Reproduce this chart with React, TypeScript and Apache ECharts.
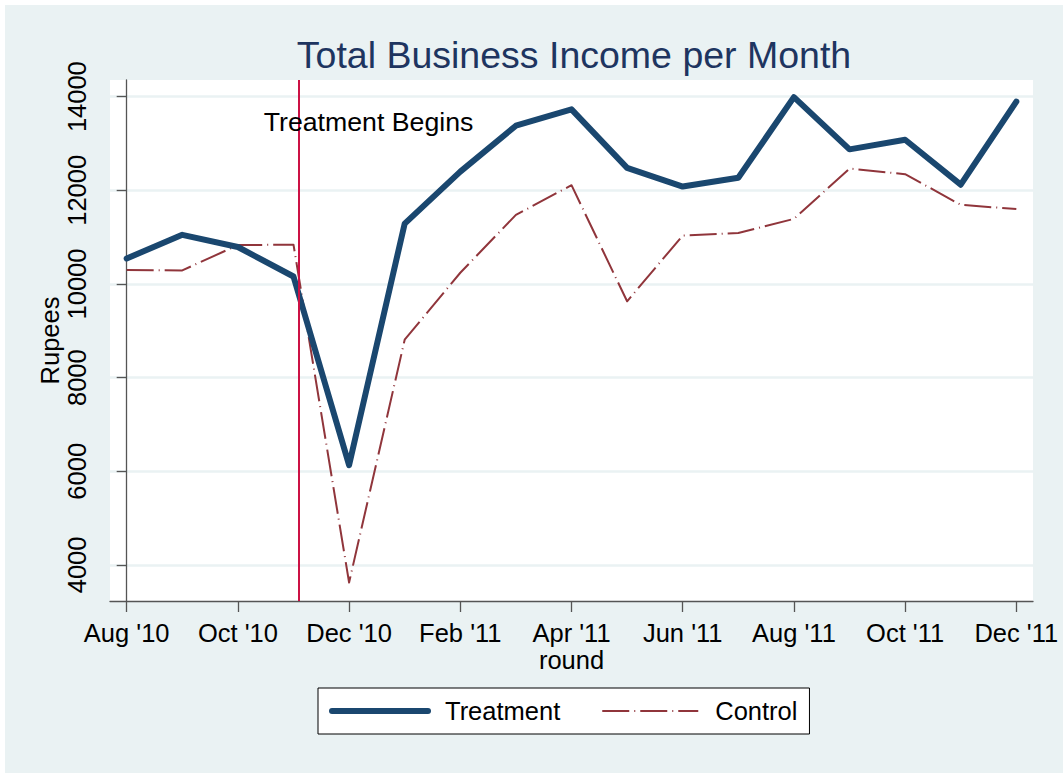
import React, { useEffect, useRef } from "react";
import * as echarts from "echarts";

const months = [
  "Aug '10", "Sep '10", "Oct '10", "Nov '10", "Dec '10", "Jan '11", "Feb '11", "Mar '11",
  "Apr '11", "May '11", "Jun '11", "Jul '11", "Aug '11", "Sep '11", "Oct '11", "Nov '11", "Dec '11",
];
const treatment = [10545, 11050, 10790, 10160, 6130, 11290, 12400, 13380, 13730, 12480, 12080, 12270, 13990, 12875, 13080, 12120, 13895];
const control = [10300, 10290, 10830, 10840, 3625, 8810, 10240, 11475, 12110, 9630, 11035, 11090, 11390, 12465, 12345, 11690, 11600];
const xTickIdx = [0, 2, 4, 6, 8, 10, 12, 14, 16];
const yTicks = [4000, 6000, 8000, 10000, 12000, 14000];
const treatmentStart = 3.1;
const annotation = { text: "Treatment Begins", x: 4.35, y: 13460 };

const FONT = "'Liberation Sans', Arial, Helvetica, sans-serif";
const BG = "#EAF2F3";

export default function App() {
  const ref = useRef<HTMLDivElement>(null);
  useEffect(() => {
    document.body.style.margin = "0";
    const chart = echarts.init(ref.current!, null, { renderer: "svg" });
    const tPts = treatment.map((v, i) => [i, v]);
    const cPts = control.map((v, i) => [i, v]);
    chart.setOption({
      animation: false,
      backgroundColor: BG,
      textStyle: { fontFamily: FONT },
      title: {
        text: "Total Business Income per Month",
        left: 569,
        top: 31,
        textAlign: "center",
        textStyle: { fontFamily: FONT, fontSize: 37.5, fontWeight: "normal", color: "#1E3560" },
      },
      graphic: [
        { type: "rect", shape: { x: 0, y: 0, width: 1063, height: 5 }, style: { fill: "#fff" }, silent: true },
        { type: "rect", shape: { x: 0, y: 0, width: 5, height: 773 }, style: { fill: "#fff" }, silent: true },
      ],
      grid: {
        left: 110, top: 80, width: 923, height: 521, containLabel: false,
        show: true, backgroundColor: "#fff", borderWidth: 0,
      },
      legend: {
        left: 318, top: 688,
        padding: [10, 12, 10, 11],
        backgroundColor: "#fff", borderColor: "#000", borderWidth: 1, borderRadius: 0,
        itemWidth: 96, itemHeight: 30, itemGap: 41,
        textStyle: { fontFamily: FONT, fontSize: 25.5, color: "#000", padding: [0, 0, 0, 12] },
        data: [
          { name: "Treatment", itemStyle: { opacity: 0 }, lineStyle: { width: 6, color: "#1A476F", type: "solid" } },
          { name: "Control", itemStyle: { opacity: 0 }, lineStyle: { width: 2, color: "#90353B", type: [27, 5, 1, 5] } },
        ],
      },
      xAxis: {
        type: "value",
        min: -0.3, max: 16.3,
        name: "round", nameLocation: "middle", nameGap: 46, nameMoveOverlap: false,
        nameTextStyle: { fontFamily: FONT, fontSize: 25.5, color: "#000", lineHeight: 26 },
        axisLine: { show: true, lineStyle: { color: "#555", width: 1.3 } },
        axisTick: { show: true, length: 11, customValues: xTickIdx, lineStyle: { color: "#555", width: 1.3 } },
        axisLabel: {
          customValues: xTickIdx, margin: 19, lineHeight: 26,
          fontFamily: FONT, fontSize: 25.5, color: "#000",
          formatter: (v: number) => months[Math.round(v)] ?? "",
        },
        splitLine: { show: false },
      },
      yAxis: {
        type: "value",
        min: 3230, max: 14356,
        name: "Rupees", nameLocation: "middle", nameGap: 47, nameMoveOverlap: false,
        nameTextStyle: { fontFamily: FONT, fontSize: 25.5, color: "#000" },
        axisLine: { show: true, lineStyle: { color: "#555", width: 1.3 } },
        axisTick: { show: true, length: 10, customValues: yTicks, lineStyle: { color: "#555", width: 1.3 } },
        axisLabel: {
          customValues: yTicks, rotate: 90, margin: 20,
          fontFamily: FONT, fontSize: 25.5, color: "#000",
          formatter: (v: number) => String(v),
        },
        splitLine: { show: true, lineStyle: { color: BG, width: 2.5 } },
      },
      series: [
        {
          name: "Treatment", type: "line", data: tPts, symbol: "none",
          lineStyle: { color: "#1A476F", width: 6, cap: "round", join: "round" },
          itemStyle: { color: "#1A476F" },
          z: 3,
          markLine: {
            silent: true, symbol: "none", animation: false,
            label: { show: false },
            lineStyle: { color: "#CC1144", width: 2, type: "solid" },
            data: [{ xAxis: treatmentStart }],
          },
          markPoint: {
            silent: true, symbol: "circle", symbolSize: 0,
            label: { show: true, position: "inside", formatter: annotation.text, fontFamily: FONT, fontSize: 26.7, color: "#000" },
            data: [{ coord: [annotation.x, annotation.y] }],
          },
        },
        {
          name: "Control", type: "line", data: cPts, symbol: "none",
          lineStyle: { color: "#90353B", width: 2, type: [27, 5, 1, 5], join: "round" },
          itemStyle: { color: "#90353B" },
          z: 2,
        },
      ],
    });
    return () => chart.dispose();
  }, []);
  return <div ref={ref} style={{ width: 1063, height: 773 }} />;
}
